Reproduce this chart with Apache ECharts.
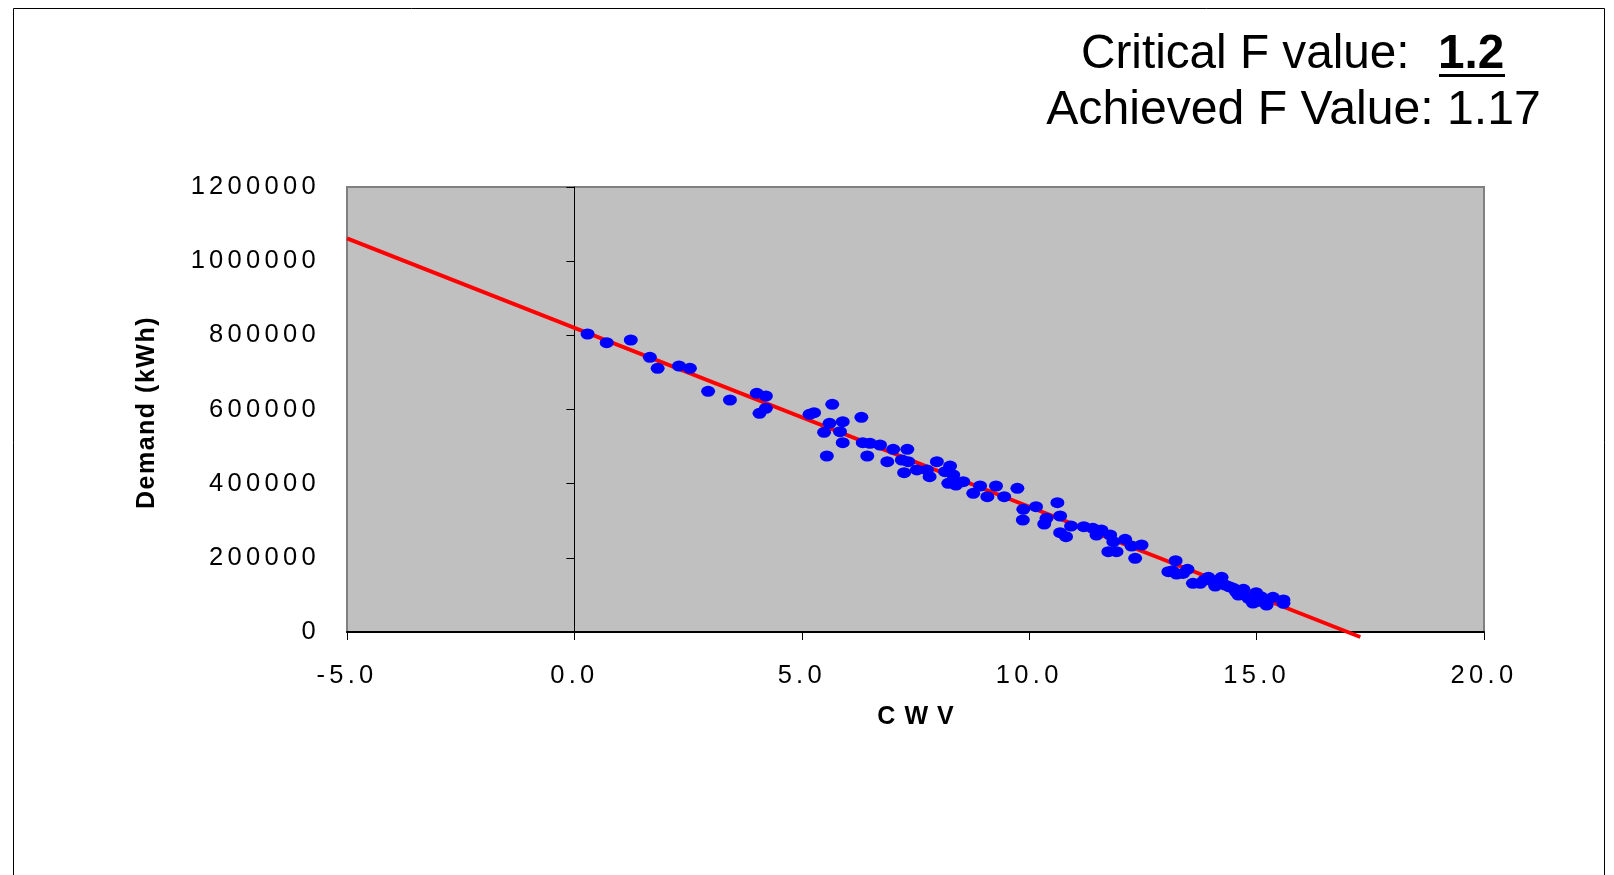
<!DOCTYPE html>
<html>
<head>
<meta charset="utf-8">
<script src="https://cdn.jsdelivr.net/npm/echarts@6/dist/echarts.min.js"></script>
<style>
html,body{margin:0;padding:0;background:#fff;}
#chart{width:1614px;height:875px;}
</style>
</head>
<body>
<div id="chart"></div>
<script>
// ---- data ----
const cwv = [0.29,0.71,1.24,1.66,1.83,2.30,2.54,2.94,3.42,4.01,4.21,4.21,4.07,
  5.67,5.17,5.27,6.31,5.61,5.90,5.49,5.84,5.90,5.55,6.34,6.50,6.44,6.72,6.88,7.01,7.32,
  7.20,7.34,7.25,7.53,7.75,7.81,7.97,8.15,8.26,8.22,8.33,8.39,8.55,8.92,8.77,9.08,9.27,
  9.45,9.74,9.87,9.86,10.15,10.38,10.33,10.62,10.68,10.68,10.81,10.92,11.20,11.40,11.59,
  11.48,11.78,11.85,11.74,11.92,12.11,12.25,12.47,12.33,13.22,13.06,13.24,13.48,13.60,
  13.76,13.94,14.23,14.09,14.31,14.49,14.71,14.60,14.82,14.99,15.00,15.22,15.36,15.59,
  15.59,14.20,14.92,15.22,13.15,13.38,13.85,14.05,14.40,14.55,15.10];
const demand = [803600,780200,787400,740700,711000,717300,711000,649000,625600,643700,636400,603200,589700,
  614000,587100,591400,579000,562800,567100,538500,540100,510500,474600,510500,508800,474600,504300,459200,492700,492700,
  463800,459200,429600,436900,436900,418800,459200,432300,447600,401000,423400,396400,405300,393700,374000,364900,393700,
  364900,387500,330900,302000,337900,306600,291200,348700,312800,267800,257000,285800,284000,279600,275000,
  261600,261600,243500,216500,216500,250000,231900,234600,198700,192300,162600,156400,169100,131300,
  131300,147500,147500,124000,126700,117800,115100,99800,90900,106000,81700,81700,93600,77400,
  86300,140200,78200,72800,165000,158000,140000,136000,122000,108000,95000];
const trendX = [-5, 17.28];
const trendY = [1061700, -13500];
const xTickLabels = ['-5.0','0.0','5.0','10.0','15.0','20.0'];
const yTickLabels = ['0','200000','400000','600000','800000','1000000','1200000'];
const criticalLabel = 'Critical F value:';
const criticalValue = '1.2';
const achievedLabel = 'Achieved F Value: 1.17';

// letter spacing support via font-family marker (lspNN => NN/10 px)
(function(){
  const P = CanvasRenderingContext2D.prototype;
  const F = P.fillText;
  P.fillText = function(t, x, y, w){
    const m = /lsp(\d+)/.exec(this.font || '');
    if (m && 'letterSpacing' in this) {
      const prev = this.letterSpacing;
      this.letterSpacing = (parseInt(m[1],10)/10) + 'px';
      const r = (w === undefined) ? F.call(this, t, x, y) : F.call(this, t, x, y, w);
      this.letterSpacing = prev;
      return r;
    }
    return F.apply(this, arguments);
  };
})();

const points = cwv.map((x, i) => [x, demand[i]]);
const trend = trendX.map((x, i) => [x, trendY[i]]);

const chart = echarts.init(document.getElementById('chart'), null, {renderer: 'canvas'});
const tickFont = "'Liberation Sans', lsp43";
const option = {
  animation: false,
  backgroundColor: '#ffffff',
  grid: {
    left: 347, top: 187, width: 1137, height: 445,
    show: true, backgroundColor: '#C0C0C0', borderColor: '#808080', borderWidth: 2
  },
  xAxis: {
    type: 'value', min: -5, max: 20, interval: 5,
    name: 'CWV', nameLocation: 'middle', nameGap: 73,
    nameTextStyle: {fontFamily: "'Liberation Sans', lsp90", fontWeight: 'bold', fontSize: 25, color: '#000',
      padding: [0, 0, 0, 9]},
    axisLine: {onZero: true, lineStyle: {color: '#000', width: 2}},
    axisTick: {show: true, length: 8, lineStyle: {color: '#000', width: 1}},
    axisLabel: {
      margin: 31, fontFamily: tickFont, fontSize: 25.5, color: '#000',
      formatter: v => xTickLabels[Math.round((v + 5) / 5)]
    },
    splitLine: {show: false}
  },
  yAxis: [{
    type: 'value', min: 0, max: 1200000, interval: 200000, position: 'left',
    name: 'Demand (kWh)', nameLocation: 'middle', nameGap: 187,
    nameTextStyle: {fontFamily: "'Liberation Sans', lsp15", fontWeight: 'bold', fontSize: 25, color: '#000',
      padding: [0, 6, 0, 0]},
    axisLine: {show: false, onZero: false},
    axisTick: {show: false},
    axisLabel: {
      margin: 27, fontFamily: tickFont, fontSize: 25.5, color: '#000',
      formatter: v => yTickLabels[Math.round(v / 200000)]
    },
    splitLine: {show: false}
  }, {
    type: 'value', min: 0, max: 1200000, interval: 200000, position: 'left',
    axisLine: {show: true, onZero: true, lineStyle: {color: '#000', width: 1}},
    axisTick: {show: true, length: 8, lineStyle: {color: '#000', width: 1}},
    axisLabel: {show: false},
    splitLine: {show: false}
  }],
  series: [{
    type: 'line', data: trend, xAxisIndex: 0, yAxisIndex: 0,
    showSymbol: false, symbol: 'none', clip: false,
    lineStyle: {color: '#FF0000', width: 4}, z: 2, silent: true
  }, {
    type: 'scatter', data: points, xAxisIndex: 0, yAxisIndex: 0,
    symbol: 'circle', symbolSize: [14, 11],
    itemStyle: {color: '#0000FF', opacity: 1}, z: 3, silent: true
  }],
  graphic: [
    {type: 'rect', left: 11, top: 6, shape: {x: 0, y: 0, width: 1591, height: 900},
     style: {fill: 'none', stroke: '#000', lineWidth: 1}, silent: true, z: 0},
    {type: 'text', x: 1081, y: 55, style: {text: criticalLabel, fontFamily: "'Liberation Sans'", fontSize: 47.7,
      fill: '#000', align: 'left', verticalAlign: 'middle'}},
    {type: 'text', x: 1438, y: 55, style: {text: criticalValue, fontFamily: "'Liberation Sans'", fontSize: 47.7,
      fontWeight: 'bold', fill: '#000', align: 'left', verticalAlign: 'middle'}},
    {type: 'rect', shape: {x: 1439, y: 74, width: 66, height: 3}, style: {fill: '#000'}},
    {type: 'text', x: 1293.5, y: 111, style: {text: achievedLabel, fontFamily: "'Liberation Sans'", fontSize: 48.2,
      fill: '#000', align: 'center', verticalAlign: 'middle'}}
  ]
};
chart.setOption(option);
</script>
</body>
</html>
